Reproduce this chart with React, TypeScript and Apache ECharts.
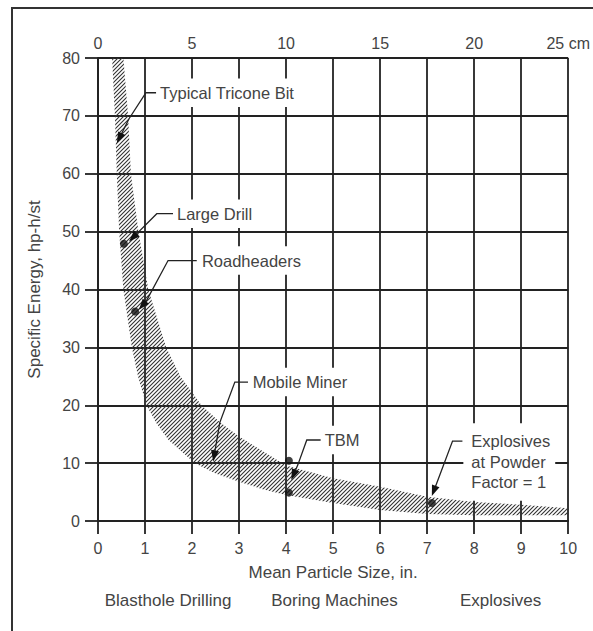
import React, { useEffect, useRef } from 'react';
import * as echarts from 'echarts';

// ---------- data ----------
const xMinIn = 0;
const xMaxIn = 10;
const yMin = 0;
const yMax = 80;
const cmMax = 25;

// hatched band: lower/left edge and upper/right edge (inches, hp-h/st)
const bandLower: [number, number][] = [
  [0.30, 80], [0.36, 70], [0.40, 60], [0.45, 50], [0.54, 40], [0.72, 30],
  [0.85, 25], [1.03, 20], [1.25, 16.8], [1.5, 14], [2.06, 10], [2.5, 8.2],
  [3.0, 6.8], [3.5, 5.5], [4.0, 4.5], [5.0, 3.1], [6.0, 1.9], [7.0, 1.2],
  [8.0, 1.0], [9.0, 1.0], [10.0, 1.0],
];
const bandUpper: [number, number][] = [
  [0.54, 80], [0.64, 70], [0.70, 60], [0.86, 50], [1.07, 40], [1.45, 30],
  [1.75, 25], [2.2, 20], [2.6, 17], [3.0, 14.6], [4.0, 9.6], [5.0, 7.4],
  [6.0, 5.9], [7.0, 4.2], [8.0, 3.3], [9.0, 2.8], [10.0, 2.2],
];

// data dots
const dotPoints: [number, number][] = [
  [0.55, 47.9],
  [0.79, 36.2],
  [4.06, 10.4],
  [4.06, 4.9],
  [7.1, 3.1],
];

// annotations
const annLabels = [
  'Typical Tricone Bit',
  'Large Drill',
  'Roadheaders',
  'Mobile Miner',
  'TBM',
  'Explosives\nat Powder\nFactor = 1',
];
const annLabelX = [1.32, 1.68, 2.21, 3.29, 4.82, 7.94];
const annLabelY = [74.0, 53.1, 45.0, 24.0, 14.0, 10.2];
const annLeaders: [number, number][][] = [
  [[1.25, 74.0], [1.02, 74.0], [0.66, 69.5], [0.40, 65.3]],
  [[1.64, 53.1], [1.25, 53.1], [0.66, 48.3]],
  [[2.10, 45.0], [1.49, 45.0], [1.04, 38.2], [0.87, 36.5]],
  [[3.19, 24.0], [2.91, 24.0], [2.59, 17.0], [2.45, 10.3]],
  [[4.75, 14.0], [4.44, 14.0], [4.25, 9.7], [4.11, 7.1]],
  [[7.75, 13.8], [7.54, 13.8], [7.1, 4.3]],
];

const regionLabels = ['Blasthole Drilling', 'Boring Machines', 'Explosives'];
const regionLabelX = [1.49, 5.03, 8.56];

const xName = 'Mean Particle Size, in.';
const yName = 'Specific Energy, hp-h/st';

// ---------- styles ----------
const FONT = '"Liberation Sans", Arial, sans-serif';
const TEXT = '#444444';
const LINE = '#222222';

function makeHatch(): string {
  const s = 4;
  const c = document.createElement('canvas');
  c.width = s;
  c.height = s;
  const ctx = c.getContext('2d');
  if (ctx) {
    ctx.strokeStyle = '#333333';
    ctx.lineWidth = 1.1;
    ctx.beginPath();
    ctx.moveTo(-1, s + 1);
    ctx.lineTo(s + 1, -1);
    ctx.moveTo(-1, 1);
    ctx.lineTo(1, -1);
    ctx.moveTo(s - 1, s + 1);
    ctx.lineTo(s + 1, s - 1);
    ctx.stroke();
  }
  return c.toDataURL();
}

export default function App() {
  const ref = useRef<HTMLDivElement>(null);

  useEffect(() => {
    if (!ref.current) return;
    const chart = echarts.init(ref.current, undefined, { renderer: 'svg' });
    const hatch = makeHatch();

    const option: any = {
      animation: false,
      grid: { left: 98, top: 58, width: 471, height: 463 },
      xAxis: [
        {
          type: 'value',
          position: 'bottom',
          min: xMinIn,
          max: xMaxIn,
          interval: 1,
          name: xName,
          nameLocation: 'middle',
          nameGap: 43,
          nameTextStyle: { fontFamily: FONT, fontSize: 17, color: TEXT },
          axisLine: { show: true, onZero: false, lineStyle: { color: LINE, width: 1.8 } },
          axisTick: { show: true, length: 13, lineStyle: { color: LINE, width: 1.8 } },
          axisLabel: { margin: 19, fontFamily: FONT, fontSize: 16, color: TEXT },
          splitLine: { show: true, lineStyle: { color: LINE, width: 1.8 } },
        },
        {
          type: 'value',
          position: 'top',
          min: 0,
          max: cmMax,
          interval: 5,
          axisLine: { show: false },
          axisTick: { show: false },
          splitLine: { show: false },
          axisLabel: {
            margin: 7,
            fontFamily: FONT,
            fontSize: 16,
            color: TEXT,
            formatter: (v: number) => (v === cmMax ? `${v} cm` : String(v)),
          },
        },
      ],
      yAxis: {
        type: 'value',
        min: yMin,
        max: yMax,
        interval: 10,
        name: yName,
        nameLocation: 'middle',
        nameGap: 55,
        nameTextStyle: { fontFamily: FONT, fontSize: 17, color: TEXT },
        axisLine: { show: true, lineStyle: { color: LINE, width: 1.8 } },
        axisTick: { show: true, length: 13, lineStyle: { color: LINE, width: 1.8 } },
        axisLabel: { margin: 18, fontFamily: FONT, fontSize: 16, color: TEXT },
        splitLine: { show: true, lineStyle: { color: LINE, width: 1.8 } },
      },
      graphic: [
        { type: 'line', silent: true, shape: { x1: 12, y1: 7, x2: 12, y2: 631 }, style: { stroke: '#333', lineWidth: 2 } },
        { type: 'line', silent: true, shape: { x1: 11, y1: 8, x2: 593, y2: 8 }, style: { stroke: '#333', lineWidth: 2 } },
      ],
      series: [
        {
          type: 'custom',
          name: 'band',
          coordinateSystem: 'cartesian2d',
          xAxisIndex: 0,
          yAxisIndex: 0,
          silent: true,
          z: 3,
          data: [[0, 0]],
          renderItem: (_params: any, api: any) => {
            const pts = [...bandLower, ...bandUpper.slice().reverse()].map((p) => api.coord(p));
            return {
              type: 'polygon',
              shape: { points: pts },
              style: {
                fill: { image: hatch, repeat: 'repeat', imageWidth: 4, imageHeight: 4 },
                stroke: null,
              },
            };
          },
        },
        {
          type: 'custom',
          name: 'annotations',
          coordinateSystem: 'cartesian2d',
          xAxisIndex: 0,
          yAxisIndex: 0,
          silent: true,
          z: 5,
          data: annLabels.map((_, i) => [annLabelX[i], annLabelY[i]]),
          renderItem: (params: any, api: any) => {
            const i = params.dataIndex;
            const pts = annLeaders[i].map((p) => api.coord(p));
            const tip = pts[pts.length - 1];
            const prev = pts[pts.length - 2];
            const dx = tip[0] - prev[0];
            const dy = tip[1] - prev[1];
            const len = Math.hypot(dx, dy) || 1;
            const ux = dx / len;
            const uy = dy / len;
            const L = 11;
            const W = 4;
            const base = [tip[0] - ux * L, tip[1] - uy * L];
            const arrow = [
              tip,
              [base[0] - uy * W, base[1] + ux * W],
              [base[0] + uy * W, base[1] - ux * W],
            ];
            const linePts = [...pts.slice(0, -1), [base[0] + ux * 2, base[1] + uy * 2]];
            const lp = api.coord([annLabelX[i], annLabelY[i]]);
            const multi = annLabels[i].indexOf('\n') >= 0;
            const pad = multi ? [8, 5, 8, 8] : [4, 4, 4, 4];
            return {
              type: 'group',
              children: [
                {
                  type: 'polyline',
                  shape: { points: linePts },
                  style: { stroke: LINE, lineWidth: 1.3, fill: null },
                },
                { type: 'polygon', shape: { points: arrow }, style: { fill: '#111' } },
                {
                  type: 'text',
                  x: lp[0] - pad[3],
                  y: lp[1],
                  style: {
                    text: annLabels[i],
                    fill: TEXT,
                    font: `16.5px ${FONT}`,
                    align: 'left',
                    verticalAlign: 'middle',
                    lineHeight: 20.5,
                    backgroundColor: '#ffffff',
                    padding: pad,
                  },
                },
              ],
            };
          },
        },
        {
          type: 'scatter',
          name: 'dots',
          xAxisIndex: 0,
          yAxisIndex: 0,
          silent: true,
          z: 6,
          symbol: 'circle',
          symbolSize: 8,
          itemStyle: { color: '#111' },
          data: dotPoints,
        },
        {
          type: 'custom',
          name: 'regions',
          coordinateSystem: 'cartesian2d',
          xAxisIndex: 0,
          yAxisIndex: 0,
          silent: true,
          data: regionLabelX.map((x) => [x, 0]),
          renderItem: (params: any, api: any) => {
            const i = params.dataIndex;
            const p = api.coord([regionLabelX[i], 0]);
            return {
              type: 'text',
              x: p[0],
              y: p[1] + 79,
              style: {
                text: regionLabels[i],
                fill: TEXT,
                font: `17px ${FONT}`,
                align: 'center',
                verticalAlign: 'middle',
              },
            };
          },
        },
      ],
    };

    chart.setOption(option);
    return () => chart.dispose();
  }, []);

  return (
    <div
      ref={ref}
      style={{ position: 'absolute', left: 0, top: 0, width: 593, height: 631, background: '#fff' }}
    />
  );
}
